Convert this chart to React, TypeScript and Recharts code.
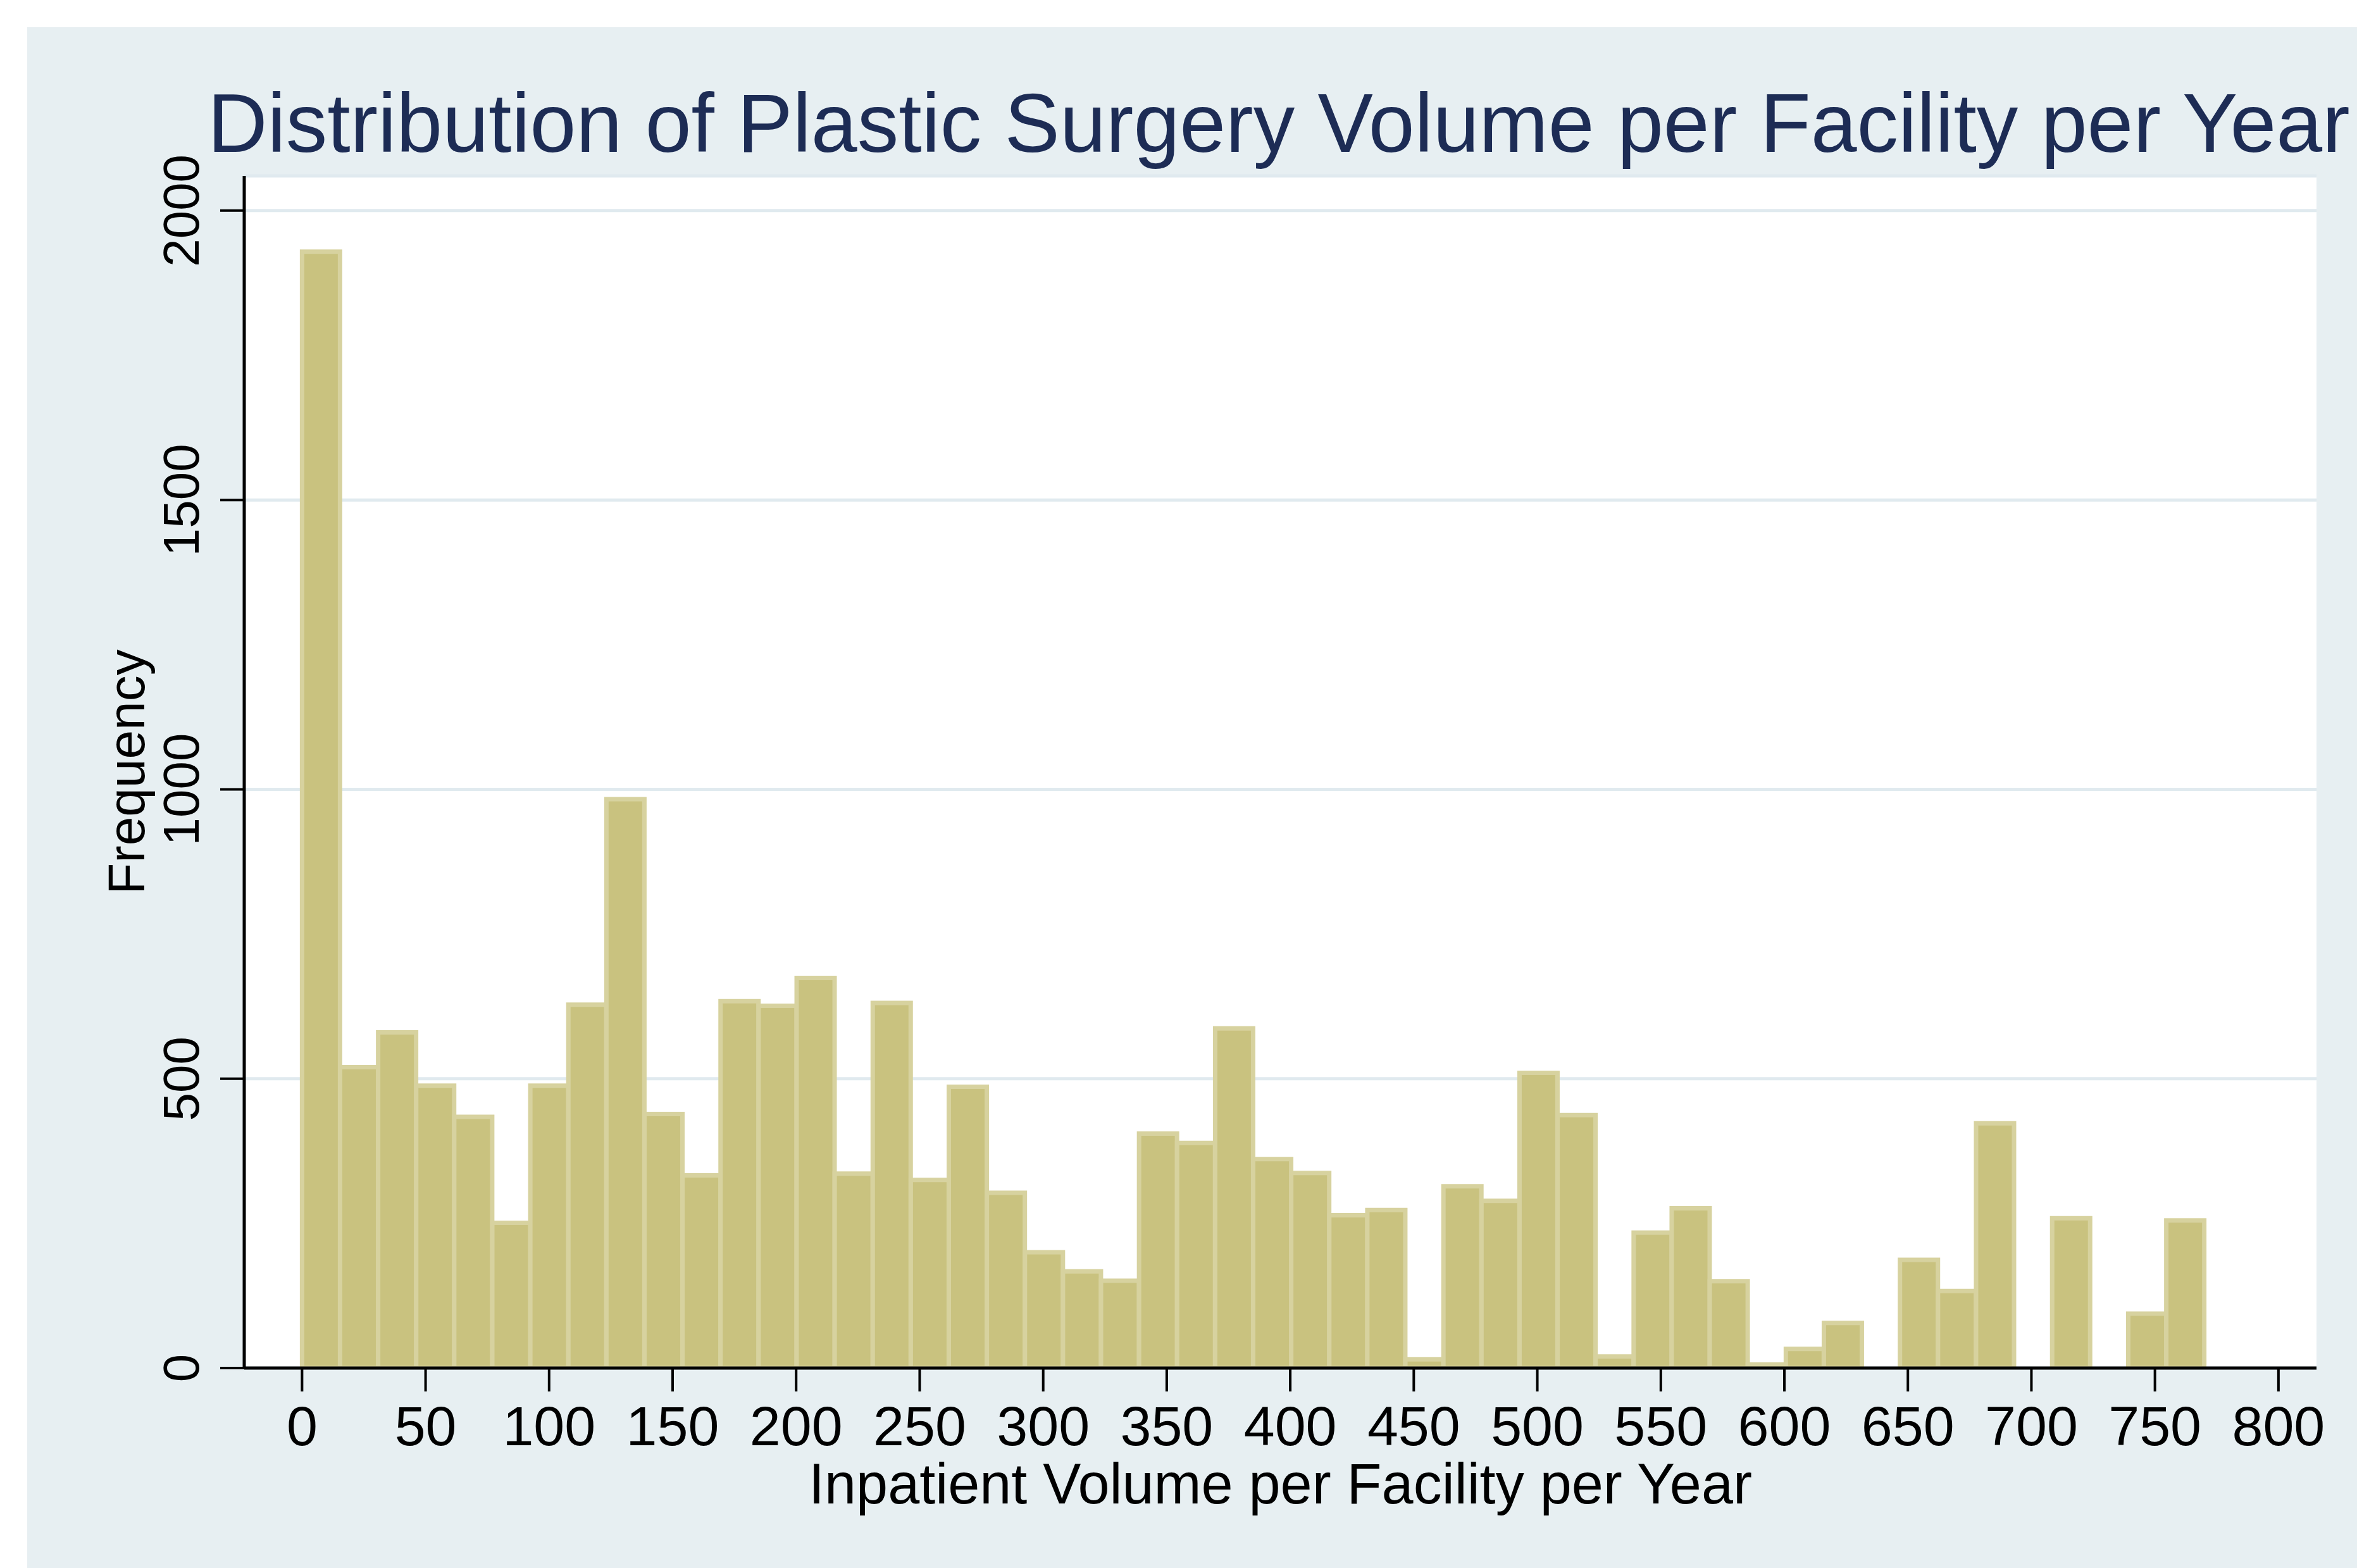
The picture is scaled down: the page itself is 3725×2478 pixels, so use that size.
import React from 'react';
import { ComposedChart, Bar, XAxis, YAxis, CartesianGrid } from 'recharts';

// Histogram bins (bin centers, width ≈ 15.4)
const binCenters = [
  7.7, 23.1, 38.5, 53.9, 69.3, 84.7, 100.1, 115.5, 130.9, 146.3,
  161.7, 177.1, 192.5, 207.9, 223.3, 238.7, 254.1, 269.5, 284.9, 300.3,
  315.7, 331.1, 346.5, 361.9, 377.3, 392.7, 408.1, 423.5, 438.9, 454.3,
  469.7, 485.1, 500.5, 515.9, 531.3, 546.7, 562.1, 577.5, 592.9, 608.3,
  623.7, 639.1, 654.5, 669.9, 685.3, 700.7, 716.1, 731.5, 746.9, 762.3,
];

const frequencies = [
  1929, 520, 580, 488, 434, 251, 488, 628, 983, 439,
  333, 634, 626, 674, 336, 631, 325, 486, 303, 200,
  167, 151, 405, 389, 587, 361, 337, 264, 273, 15,
  314, 289, 510, 437, 20, 234, 276, 150, 6, 33,
  78, 0, 187, 133, 423, 0, 259, 0, 94, 255,
];

const xTicks = [0, 50, 100, 150, 200, 250, 300, 350, 400, 450, 500, 550, 600, 650, 700, 750, 800];
const yTicks = [0, 500, 1000, 1500, 2000];
const xDomain = [-23.4, 815.4];
const yDomain = [0, 2060];

const titleText = 'Distribution of Plastic Surgery Volume per Facility per Year';
const xTitle = 'Inpatient Volume per Facility per Year';
const yTitle = 'Frequency';

const data = binCenters.map((c, i) => ({ center: c, freq: frequencies[i] }));

const W = 3725;
const H = 2478;
const FONT = "'Liberation Sans', Arial, Helvetica, sans-serif";

const PLOT_LEFT = 386;
const PLOT_RIGHT = 3661;
const PLOT_TOP = 278;
const PLOT_BOTTOM = 2162;
const Y_AXIS_W = 200;
const X_AXIS_H = 150;

const YTick = (props: any) => {
  const { y, payload } = props;
  const x = PLOT_LEFT - 72;
  return (
    <text
      x={x}
      y={y}
      transform={`rotate(-90, ${x}, ${y})`}
      textAnchor="middle"
      fontSize={80}
      fontFamily={FONT}
      fill="#000"
    >
      {payload.value}
    </text>
  );
};

const XTick = (props: any) => {
  const { x, payload } = props;
  return (
    <text x={x} y={PLOT_BOTTOM + 122} textAnchor="middle" fontSize={88} fontFamily={FONT} fill="#000">
      {payload.value}
    </text>
  );
};

export default function App() {
  return (
    <div style={{ position: 'absolute', left: 0, top: 0, width: W, height: H, background: '#ffffff', overflow: 'hidden' }}>
      <div style={{ position: 'absolute', left: 43, top: 43, width: W - 43, height: H - 43, background: '#e7eff2' }} />
      <div style={{ position: 'absolute', left: 0, top: 0 }}>
        <ComposedChart
          width={W}
          height={H}
          data={data}
          margin={{
            top: PLOT_TOP,
            left: PLOT_LEFT - Y_AXIS_W,
            right: W - PLOT_RIGHT,
            bottom: H - PLOT_BOTTOM - X_AXIS_H,
          }}
          barCategoryGap={0}
          barGap={0}
        >
          <CartesianGrid vertical={false} stroke="#e0eaef" strokeWidth={5} fill="#ffffff" />
          <XAxis
            dataKey="center"
            type="number"
            domain={xDomain}
            ticks={xTicks}
            allowDataOverflow
            interval={0}
            height={X_AXIS_H}
            axisLine={{ stroke: '#000', strokeWidth: 5 }}
            tickLine={{ stroke: '#000', strokeWidth: 4 }}
            tickSize={37}
            tick={<XTick />}
          />
          <YAxis
            type="number"
            domain={yDomain}
            ticks={yTicks}
            allowDataOverflow
            interval={0}
            width={Y_AXIS_W}
            axisLine={{ stroke: '#000', strokeWidth: 5 }}
            tickLine={{ stroke: '#000', strokeWidth: 4 }}
            tickSize={38}
            tick={<YTick />}
          />
          <Bar dataKey="freq" fill="#c9c27f" stroke="#d7d29f" strokeWidth={7} isAnimationActive={false} />
        </ComposedChart>
      </div>
      <svg width={W} height={H} style={{ position: 'absolute', left: 0, top: 0, pointerEvents: 'none' }}>
        <text x={328} y={240} fontSize={131} fontFamily={FONT} fill="#1d2c55">
          {titleText}
        </text>
        <text x={(PLOT_LEFT + PLOT_RIGHT) / 2} y={2376} textAnchor="middle" fontSize={90} fontFamily={FONT} fill="#000">
          {xTitle}
        </text>
        <text
          x={228}
          y={(PLOT_TOP + PLOT_BOTTOM) / 2}
          transform={`rotate(-90, 228, ${(PLOT_TOP + PLOT_BOTTOM) / 2})`}
          textAnchor="middle"
          fontSize={82}
          fontFamily={FONT}
          fill="#000"
        >
          {yTitle}
        </text>
      </svg>
    </div>
  );
}
